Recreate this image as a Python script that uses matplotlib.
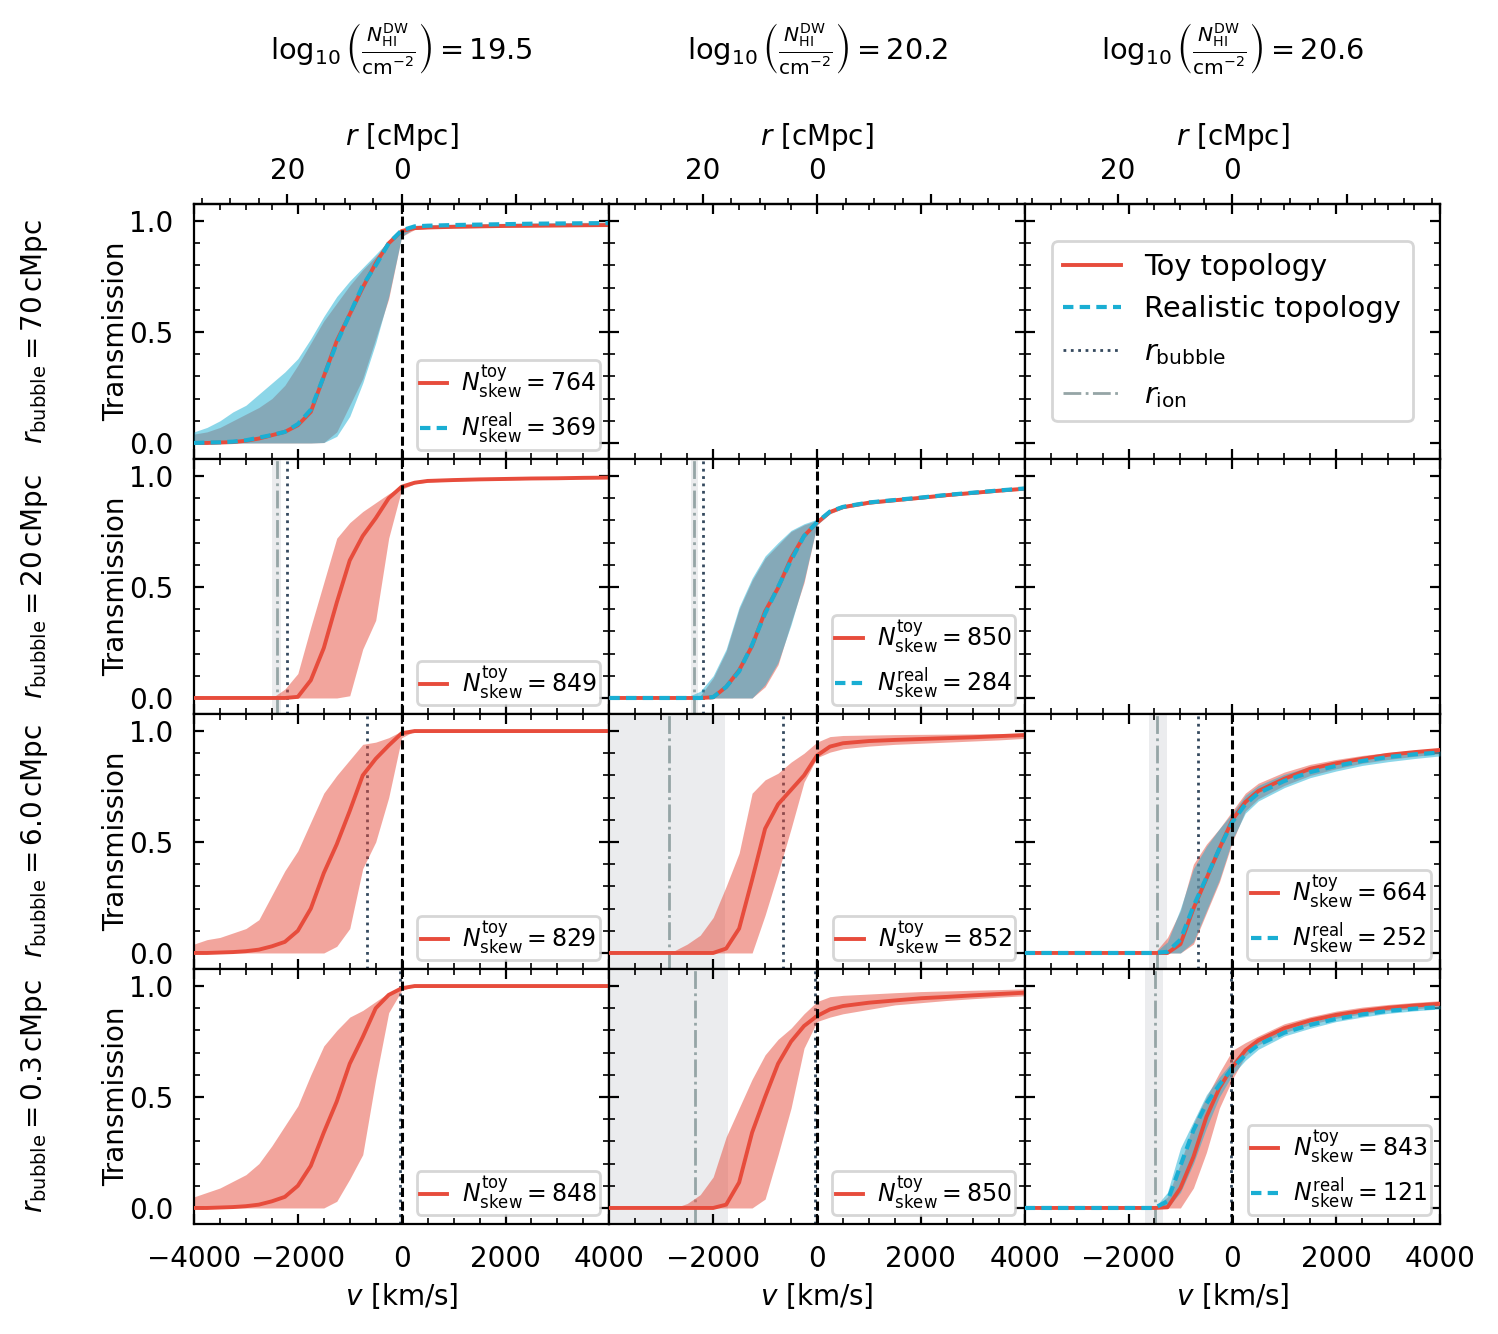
import numpy as np
import matplotlib.pyplot as plt
from matplotlib.lines import Line2D
from matplotlib.ticker import MultipleLocator, FixedLocator, FuncFormatter

v_grid = [-4000, -3750, -3500, -3250, -3000, -2750, -2500, -2250, -2000, -1750,
          -1500, -1250, -1000, -750, -500, -250, 0, 250, 500, 1000,
          1500, 2000, 2500, 3000, 3500, 4000]

# column / row labels
nhi_dw = ["19.5", "20.2", "20.6"]
r_bubble = [70, 20, 6.0, 0.3]
r_bubble_text = ["70", "20", "6.0", "0.3"]
KMS_PER_CMPC = 110.1

# ---- row 1, col 1 -------------------------------------------------------
toy_mid_11 = [0.0, 0.0, 0.002, 0.004, 0.01, 0.02, 0.035, 0.05, 0.08, 0.14,
              0.30, 0.46, 0.58, 0.70, 0.81, 0.90, 0.955, 0.968, 0.971, 0.974,
              0.976, 0.978, 0.979, 0.98, 0.981, 0.982]
toy_lo_11 = [0.0, 0.0, 0.0, 0.0, 0.0, 0.0, 0.0, 0.0, 0.0, 0.0,
             0.002, 0.05, 0.17, 0.29, 0.47, 0.65, 0.93, 0.962, 0.966, 0.969,
             0.971, 0.973, 0.974, 0.975, 0.976, 0.977]
toy_hi_11 = [0.04, 0.05, 0.07, 0.10, 0.13, 0.16, 0.20, 0.26, 0.35, 0.45,
             0.55, 0.63, 0.71, 0.78, 0.84, 0.90, 0.96, 0.974, 0.977, 0.979,
             0.981, 0.983, 0.984, 0.985, 0.986, 0.987]
real_mid_11 = [0.0, 0.002, 0.003, 0.006, 0.012, 0.024, 0.036, 0.05, 0.085, 0.15,
               0.30, 0.45, 0.58, 0.71, 0.80, 0.90, 0.958, 0.976, 0.979, 0.982,
               0.984, 0.986, 0.988, 0.989, 0.99, 0.991]
real_lo_11 = [0.0, 0.0, 0.0, 0.0, 0.0, 0.0, 0.0, 0.0, 0.0, 0.0,
              0.002, 0.03, 0.12, 0.27, 0.45, 0.66, 0.93, 0.97, 0.974, 0.977,
              0.979, 0.981, 0.983, 0.984, 0.985, 0.986]
real_hi_11 = [0.05, 0.07, 0.10, 0.14, 0.17, 0.22, 0.27, 0.32, 0.38, 0.47,
              0.57, 0.66, 0.73, 0.79, 0.85, 0.91, 0.965, 0.981, 0.984, 0.986,
              0.988, 0.99, 0.992, 0.993, 0.994, 0.995]

# ---- row 2, col 1 -------------------------------------------------------
toy_mid_21 = [0.0, 0.0, 0.0, 0.0, 0.0, 0.0, 0.0, 0.0, 0.005, 0.08,
              0.225, 0.43, 0.62, 0.73, 0.81, 0.90, 0.952, 0.97, 0.978, 0.982,
              0.985, 0.987, 0.989, 0.99, 0.992, 0.993]
toy_lo_21 = [0.0, 0.0, 0.0, 0.0, 0.0, 0.0, 0.0, 0.0, 0.0, 0.0,
             0.0, 0.0, 0.01, 0.22, 0.35, 0.72, 0.94, 0.965, 0.973, 0.978,
             0.981, 0.983, 0.985, 0.986, 0.988, 0.989]
toy_hi_21 = [0.0, 0.0, 0.0, 0.0, 0.0, 0.0, 0.0, 0.04, 0.11, 0.32,
             0.52, 0.72, 0.79, 0.84, 0.88, 0.92, 0.955, 0.975, 0.982, 0.986,
             0.989, 0.991, 0.993, 0.994, 0.996, 0.997]

# ---- row 2, col 2 -------------------------------------------------------
toy_mid_22 = [0.0, 0.0, 0.0, 0.0, 0.0, 0.0, 0.0, 0.0, 0.003, 0.05,
              0.125, 0.235, 0.39, 0.496, 0.63, 0.73, 0.79, 0.838, 0.86, 0.88,
              0.891, 0.902, 0.914, 0.924, 0.934, 0.943]
toy_lo_22 = [0.0, 0.0, 0.0, 0.0, 0.0, 0.0, 0.0, 0.0, 0.0, 0.0,
             0.0, 0.0, 0.05, 0.15, 0.34, 0.52, 0.78, 0.83, 0.853, 0.873,
             0.885, 0.896, 0.908, 0.918, 0.928, 0.937]
toy_hi_22 = [0.0, 0.0, 0.0, 0.0, 0.0, 0.0, 0.0, 0.01, 0.09, 0.21,
             0.40, 0.53, 0.63, 0.69, 0.75, 0.78, 0.80, 0.845, 0.867, 0.887,
             0.897, 0.908, 0.92, 0.93, 0.94, 0.949]
real_mid_22 = [0.0, 0.0, 0.0, 0.0, 0.0, 0.0, 0.0, 0.0, 0.004, 0.05,
               0.12, 0.24, 0.38, 0.50, 0.62, 0.73, 0.792, 0.84, 0.861, 0.881,
               0.892, 0.903, 0.915, 0.925, 0.935, 0.944]
real_lo_22 = [0.0, 0.0, 0.0, 0.0, 0.0, 0.0, 0.0, 0.0, 0.0, 0.0,
              0.0, 0.0, 0.06, 0.16, 0.33, 0.53, 0.78, 0.832, 0.855, 0.875,
              0.887, 0.898, 0.91, 0.92, 0.93, 0.939]
real_hi_22 = [0.0, 0.0, 0.0, 0.0, 0.0, 0.0, 0.005, 0.03, 0.10, 0.22,
              0.41, 0.54, 0.64, 0.70, 0.755, 0.785, 0.805, 0.848, 0.868, 0.888,
              0.898, 0.909, 0.921, 0.931, 0.941, 0.95]

# ---- row 3, col 1 -------------------------------------------------------
toy_mid_31 = [0.0, 0.0, 0.002, 0.004, 0.008, 0.015, 0.03, 0.05, 0.10, 0.20,
              0.36, 0.49, 0.64, 0.80, 0.875, 0.935, 0.99, 1.0, 1.0, 1.0,
              1.0, 1.0, 1.0, 1.0, 1.0, 1.0]
toy_lo_31 = [0.0, 0.0, 0.0, 0.0, 0.0, 0.0, 0.0, 0.0, 0.0, 0.0,
             0.0, 0.03, 0.11, 0.38, 0.50, 0.70, 0.97, 1.0, 1.0, 1.0,
             1.0, 1.0, 1.0, 1.0, 1.0, 1.0]
toy_hi_31 = [0.04, 0.06, 0.07, 0.09, 0.11, 0.15, 0.26, 0.37, 0.46, 0.59,
             0.72, 0.80, 0.87, 0.94, 0.95, 0.97, 1.0, 1.0, 1.0, 1.0,
             1.0, 1.0, 1.0, 1.0, 1.0, 1.0]

# ---- row 3, col 2 -------------------------------------------------------
toy_mid_32 = [0.0, 0.0, 0.0, 0.0, 0.0, 0.0, 0.0, 0.0, 0.0, 0.02,
              0.11, 0.33, 0.56, 0.67, 0.735, 0.80, 0.89, 0.93, 0.945, 0.955,
              0.96, 0.964, 0.968, 0.972, 0.977, 0.982]
toy_lo_32 = [0.0, 0.0, 0.0, 0.0, 0.0, 0.0, 0.0, 0.0, 0.0, 0.0,
             0.0, 0.0, 0.17, 0.36, 0.56, 0.77, 0.88, 0.905, 0.92, 0.932,
             0.94, 0.945, 0.95, 0.955, 0.96, 0.967]
toy_hi_32 = [0.0, 0.0, 0.0, 0.0, 0.0, 0.01, 0.04, 0.08, 0.16, 0.30,
             0.45, 0.72, 0.78, 0.81, 0.86, 0.90, 0.95, 0.975, 0.98, 0.982,
             0.984, 0.985, 0.986, 0.987, 0.988, 0.99]

# ---- row 3, col 3 -------------------------------------------------------
toy_mid_33 = [0.0, 0.0, 0.0, 0.0, 0.0, 0.0, 0.0, 0.0, 0.0, 0.0,
              0.0, 0.0, 0.04, 0.20, 0.335, 0.47, 0.60, 0.68, 0.73, 0.785,
              0.83, 0.855, 0.875, 0.893, 0.905, 0.915]
toy_lo_33 = [0.0, 0.0, 0.0, 0.0, 0.0, 0.0, 0.0, 0.0, 0.0, 0.0,
             0.0, 0.0, 0.0, 0.04, 0.18, 0.32, 0.50, 0.64, 0.695, 0.755,
             0.80, 0.83, 0.855, 0.872, 0.886, 0.898]
toy_hi_33 = [0.0, 0.0, 0.0, 0.0, 0.0, 0.0, 0.0, 0.0, 0.0, 0.0,
             0.0, 0.07, 0.19, 0.40, 0.49, 0.56, 0.64, 0.72, 0.765, 0.815,
             0.85, 0.872, 0.89, 0.903, 0.913, 0.922]
real_mid_33 = [0.0, 0.0, 0.0, 0.0, 0.0, 0.0, 0.0, 0.0, 0.0, 0.0,
               0.0, 0.005, 0.06, 0.21, 0.34, 0.47, 0.59, 0.67, 0.72, 0.775,
               0.815, 0.843, 0.865, 0.883, 0.895, 0.903]
real_lo_33 = [0.0, 0.0, 0.0, 0.0, 0.0, 0.0, 0.0, 0.0, 0.0, 0.0,
              0.0, 0.0, 0.0, 0.05, 0.19, 0.33, 0.51, 0.63, 0.685, 0.745,
              0.79, 0.82, 0.845, 0.862, 0.876, 0.888]
real_hi_33 = [0.0, 0.0, 0.0, 0.0, 0.0, 0.0, 0.0, 0.0, 0.0, 0.0,
              0.0, 0.05, 0.20, 0.38, 0.48, 0.56, 0.63, 0.71, 0.755, 0.805,
              0.84, 0.862, 0.88, 0.893, 0.903, 0.91]

# ---- row 4, col 1 -------------------------------------------------------
toy_mid_41 = [0.0, 0.0, 0.002, 0.004, 0.008, 0.015, 0.03, 0.05, 0.10, 0.19,
              0.34, 0.48, 0.65, 0.77, 0.90, 0.96, 0.99, 1.0, 1.0, 1.0,
              1.0, 1.0, 1.0, 1.0, 1.0, 1.0]
toy_lo_41 = [0.0, 0.0, 0.0, 0.0, 0.0, 0.0, 0.0, 0.0, 0.0, 0.0,
             0.0, 0.03, 0.13, 0.24, 0.58, 0.88, 0.98, 1.0, 1.0, 1.0,
             1.0, 1.0, 1.0, 1.0, 1.0, 1.0]
toy_hi_41 = [0.05, 0.07, 0.09, 0.12, 0.15, 0.20, 0.28, 0.37, 0.46, 0.60,
             0.73, 0.80, 0.86, 0.89, 0.93, 0.97, 0.99, 1.0, 1.0, 1.0,
             1.0, 1.0, 1.0, 1.0, 1.0, 1.0]

# ---- row 4, col 2 -------------------------------------------------------
toy_mid_42 = [0.0, 0.0, 0.0, 0.0, 0.0, 0.0, 0.0, 0.0, 0.0, 0.015,
              0.115, 0.34, 0.50, 0.65, 0.75, 0.82, 0.865, 0.895, 0.91, 0.925,
              0.935, 0.945, 0.951, 0.958, 0.964, 0.97]
toy_lo_42 = [0.0, 0.0, 0.0, 0.0, 0.0, 0.0, 0.0, 0.0, 0.0, 0.0,
             0.0, 0.0, 0.04, 0.24, 0.45, 0.72, 0.84, 0.86, 0.875, 0.895,
             0.915, 0.925, 0.935, 0.943, 0.95, 0.956]
toy_hi_42 = [0.0, 0.0, 0.0, 0.0, 0.0, 0.0, 0.02, 0.06, 0.14, 0.32,
             0.45, 0.58, 0.69, 0.76, 0.81, 0.875, 0.93, 0.952, 0.958, 0.964,
             0.97, 0.975, 0.978, 0.981, 0.984, 0.987]

# ---- row 4, col 3 -------------------------------------------------------
toy_mid_43 = [0.0, 0.0, 0.0, 0.0, 0.0, 0.0, 0.0, 0.0, 0.0, 0.0,
              0.0, 0.003, 0.09, 0.23, 0.41, 0.54, 0.635, 0.71, 0.755, 0.81,
              0.845, 0.87, 0.888, 0.902, 0.912, 0.92]
toy_lo_43 = [0.0, 0.0, 0.0, 0.0, 0.0, 0.0, 0.0, 0.0, 0.0, 0.0,
             0.0, 0.0, 0.0, 0.09, 0.25, 0.45, 0.58, 0.685, 0.735, 0.79,
             0.827, 0.855, 0.875, 0.89, 0.898, 0.905]
toy_hi_43 = [0.0, 0.0, 0.0, 0.0, 0.0, 0.0, 0.0, 0.0, 0.0, 0.0,
             0.0, 0.05, 0.20, 0.38, 0.50, 0.61, 0.71, 0.745, 0.775, 0.83,
             0.862, 0.887, 0.905, 0.917, 0.926, 0.934]
real_mid_43 = [0.0, 0.0, 0.0, 0.0, 0.0, 0.0, 0.0, 0.0, 0.0, 0.0,
               0.0, 0.03, 0.19, 0.35, 0.47, 0.555, 0.63, 0.69, 0.735, 0.79,
               0.825, 0.852, 0.872, 0.888, 0.898, 0.905]
real_lo_43 = [0.0, 0.0, 0.0, 0.0, 0.0, 0.0, 0.0, 0.0, 0.0, 0.0,
              0.0, 0.0, 0.07, 0.20, 0.36, 0.50, 0.60, 0.665, 0.715, 0.775,
              0.81, 0.84, 0.86, 0.877, 0.888, 0.897]
real_hi_43 = [0.0, 0.0, 0.0, 0.0, 0.0, 0.0, 0.0, 0.0, 0.0, 0.0,
              0.0, 0.07, 0.27, 0.39, 0.51, 0.59, 0.66, 0.715, 0.755, 0.805,
              0.84, 0.865, 0.884, 0.897, 0.906, 0.912]

# number of skewers per panel
n_toy = {(0, 0): 764, (1, 0): 849, (1, 1): 850, (2, 0): 829, (2, 1): 852,
         (2, 2): 664, (3, 0): 848, (3, 1): 850, (3, 2): 843}
n_real = {(0, 0): 369, (1, 1): 284, (2, 2): 252, (3, 2): 121}

# r_ion in km/s: (centre, band low, band high)
r_ion = {(1, 0): (-2396, -2493, -2319), (1, 1): (-2365, -2423, -2288),
         (2, 1): (-2846, -3960, -1769), (2, 2): (-1442, -1596, -1250),
         (3, 1): (-2346, -4100, -1712), (3, 2): (-1481, -1673, -1327)}

toy_curves = {(0, 0): (toy_mid_11, toy_lo_11, toy_hi_11),
              (1, 0): (toy_mid_21, toy_lo_21, toy_hi_21),
              (1, 1): (toy_mid_22, toy_lo_22, toy_hi_22),
              (2, 0): (toy_mid_31, toy_lo_31, toy_hi_31),
              (2, 1): (toy_mid_32, toy_lo_32, toy_hi_32),
              (2, 2): (toy_mid_33, toy_lo_33, toy_hi_33),
              (3, 0): (toy_mid_41, toy_lo_41, toy_hi_41),
              (3, 1): (toy_mid_42, toy_lo_42, toy_hi_42),
              (3, 2): (toy_mid_43, toy_lo_43, toy_hi_43)}
real_curves = {(0, 0): (real_mid_11, real_lo_11, real_hi_11),
               (1, 1): (real_mid_22, real_lo_22, real_hi_22),
               (2, 2): (real_mid_33, real_lo_33, real_hi_33),
               (3, 2): (real_mid_43, real_lo_43, real_hi_43)}

RED = "#e74c3c"
BLUE = "#1aaed3"
SLATE = "#34495e"
GREY = "#95a5a6"
BAND = "#bdc3c7"

plt.rcParams["font.size"] = 10

fig = plt.figure(figsize=(7.49, 6.67), dpi=200)
gs = fig.add_gridspec(4, 3, left=0.1295, right=0.9613, top=0.8471,
                      bottom=0.0825, hspace=0, wspace=0)
axes = np.array([[fig.add_subplot(gs[i, j]) for j in range(3)]
                 for i in range(4)])

v = np.array(v_grid)
for i in range(4):
    for j in range(3):
        ax = axes[i, j]
        ax.set_xlim(-4000, 4000)
        ax.set_ylim(-0.072, 1.077)
        if j == 0:
            ax.xaxis.set_major_locator(MultipleLocator(2000))
        else:
            ax.xaxis.set_major_locator(FixedLocator([-2000, 0, 2000, 4000]))
        ax.xaxis.set_minor_locator(MultipleLocator(500))
        ax.yaxis.set_major_locator(MultipleLocator(0.5))
        ax.yaxis.set_minor_locator(MultipleLocator(0.1))
        ax.tick_params(which="both", direction="in", top=True, right=True)
        ax.tick_params(which="major", pad=7.5)
        if i < 3:
            ax.tick_params(labelbottom=False)
        else:
            ax.set_xlabel(r"$v$ [km/s]", labelpad=3)
        if j > 0:
            ax.tick_params(labelleft=False)
        else:
            ax.set_ylabel("Transmission", labelpad=-0.5)

        if i == 0:
            sec = ax.secondary_xaxis(
                "top", functions=(lambda x: -x / KMS_PER_CMPC,
                                  lambda r: -r * KMS_PER_CMPC))
            sec.set_xticks([-20, 0, 20])
            sec.xaxis.set_major_formatter(
                FuncFormatter(lambda r, pos: f"{r:.0f}" if r >= 0 else ""))
            sec.xaxis.set_minor_locator(MultipleLocator(5))
            sec.set_xlabel(r"$r$ [cMpc]")

        key = (i, j)
        if key not in toy_curves:
            continue
        # reference lines
        if key in r_ion:
            c, lo, hi = r_ion[key]
            ax.axvspan(lo, hi, color=BAND, alpha=0.3, lw=0, zorder=0)
            ax.axvline(c, color=GREY, ls="-.", lw=1.0, zorder=1)
        vb = -r_bubble[i] * KMS_PER_CMPC
        if vb > -4000:
            ax.axvline(vb, color=SLATE, ls=":", lw=1.0, zorder=1)
        ax.axvline(0, color="k", ls=(0, (3, 1.5)), lw=1.1, zorder=5)

        mid, lo, hi = toy_curves[key]
        ax.fill_between(v, lo, hi, color=RED, alpha=0.5, lw=0, zorder=2)
        handles = []
        ln, = ax.plot(v, mid, color=RED, lw=1.4, zorder=4,
                      label=r"$N_{\rm skew}^{\rm toy} = %d$" % n_toy[key])
        handles.append(ln)
        if key in real_curves:
            rmid, rlo, rhi = real_curves[key]
            ax.fill_between(v, rlo, rhi, color=BLUE, alpha=0.5, lw=0, zorder=3)
            ln2, = ax.plot(v, rmid, color=BLUE, lw=1.5, ls=(0, (2.5, 1.5)),
                           zorder=4,
                           label=r"$N_{\rm skew}^{\rm real} = %d$" % n_real[key])
            handles.append(ln2)
        ax.legend(handles=handles, loc="lower right", fontsize=8.5,
                  handlelength=1.15, handletextpad=0.6, borderaxespad=0.4,
                  borderpad=0.15, labelspacing=0.45)

# legend panel
leg_handles = [Line2D([], [], color=RED, lw=1.4),
               Line2D([], [], color=BLUE, lw=1.5, ls=(0, (2.5, 1.5))),
               Line2D([], [], color=SLATE, lw=1.0, ls=":"),
               Line2D([], [], color=GREY, lw=1.0, ls="-.")]
leg_labels = ["Toy topology", "Realistic topology", r"$r_{\rm bubble}$",
              r"$r_{\rm ion}$"]
axes[0, 2].legend(leg_handles, leg_labels, loc="center", fontsize=10.4)

# column titles
for j in range(3):
    bb = axes[0, j].get_position()
    fig.text((bb.x0 + bb.x1) / 2, 1 - 48 / 1334,
             r"$\log_{10}\left(\frac{N_{\rm HI}^{\rm DW}}{\rm cm^{-2}}\right) = %s$"
             % nhi_dw[j], ha="center", va="center", fontsize=10.4)

# row labels
for i in range(4):
    bb = axes[i, 0].get_position()
    fig.text(35 / 1498, (bb.y0 + bb.y1) / 2,
             r"$r_{\rm bubble} = %s\,$cMpc" % r_bubble_text[i],
             rotation=90, ha="center", va="center")

fig.savefig("out.png", dpi=200)
